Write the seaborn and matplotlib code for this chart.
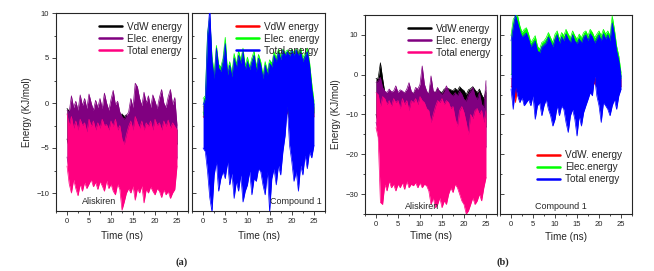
import numpy as np
import matplotlib
matplotlib.use('Agg')
import matplotlib.pyplot as plt
from matplotlib.ticker import MultipleLocator
import seaborn as sns

# sampling grid of the traces (ns); each series is stored as the upper / lower
# envelope of the fast oscillation, every 0.5 ns
time_ns = np.arange(0, 25.5, 0.5)

# ---- (a) Aliskiren ----
a_ali_vdw_hi = [-0.6, -0.9, -2.0, -2.2, -2.0, -2.3, -2.0, -2.2, -2.1, -2.4,
                -2.0, -2.3, -2.2, -2.1, -2.4, -2.0, -2.2, -2.3, -2.0, -2.2,
                -2.1, -2.4, -2.0, -2.2, -1.6, -1.2, -1.5, -1.3, -1.8, -2.0,
                -2.3, -2.0, -2.2, -2.1, -2.4, -2.0, -2.2, -2.3, -2.0, -2.2,
                -2.1, -2.4, -2.0, -2.2, -2.3, -2.0, -2.2, -2.1, -2.4, -2.6,
                -3.0]
a_ali_vdw_lo = [-4.0, -5.0, -5.5, -5.0, -5.2, -5.4, -5.0, -5.3, -5.1, -5.5,
                -5.2, -5.0, -5.4, -5.1, -5.3, -5.0, -5.2, -5.5, -5.0, -5.3,
                -5.1, -5.4, -5.0, -5.2, -5.5, -5.8, -6.0, -5.6, -5.3, -5.1,
                -5.0, -5.3, -5.2, -5.4, -5.1, -5.5, -5.2, -5.0, -5.3, -5.1,
                -5.4, -5.2, -5.0, -5.3, -5.5, -5.1, -5.2, -5.4, -5.0, -5.2,
                -4.5]
a_ali_elec_hi = [-0.8, -1.0, 0.8, -0.5, 0.2, -0.8, 0.9, -0.3, 0.5, -0.6,
                 1.0, 0.0, -0.8, 0.3, -0.5, 0.5, -0.6, 1.1, 0.0, -0.8,
                 0.4, 1.4, -0.2, 0.2, -1.0, -1.5, -1.8, -1.4, -1.0, 0.5,
                 -0.5, 2.2, 1.8, 0.5, -0.3, 1.2, 0.0, 0.8, -0.5, 0.9,
                 0.2, -0.6, 0.6, 1.5, 0.0, -0.5, 0.7, 1.5, -0.2, 0.6,
                 -2.5]
a_ali_elec_lo = [-6.0, -7.5, -8.0, -7.0, -7.8, -8.2, -7.2, -7.6, -7.0, -7.8,
                 -7.4, -7.0, -7.8, -7.2, -7.9, -7.1, -7.6, -7.9, -7.0, -7.5,
                 -7.3, -7.8, -8.1, -7.2, -7.6, -9.0, -8.8, -8.2, -7.5, -7.9,
                 -7.2, -8.0, -7.6, -7.9, -7.3, -8.4, -7.7, -7.9, -7.2, -7.8,
                 -8.0, -7.5, -7.8, -8.2, -7.4, -7.9, -7.6, -8.1, -7.7, -7.5,
                 -6.0]
a_ali_total_hi = [-1.2, -2.5, -1.5, -2.8, -2.0, -3.0, -1.8, -2.5, -2.2, -3.2,
                  -1.8, -2.6, -2.0, -3.0, -2.2, -2.8, -1.8, -2.5, -2.4, -3.0,
                  -2.0, -2.6, -1.8, -3.0, -2.5, -4.0, -4.6, -3.5, -2.6, -2.0,
                  -3.0, -1.5, -2.2, -2.8, -2.0, -3.0, -2.2, -2.6, -2.0, -3.0,
                  -1.8, -2.5, -2.2, -3.0, -2.0, -2.6, -1.9, -2.8, -2.2, -2.6,
                  -3.0]
a_ali_total_lo = [-7.0, -9.0, -10.0, -8.5, -9.5, -10.3, -9.0, -9.8, -8.8, -9.5,
                  -9.0, -8.5, -9.3, -8.8, -9.6, -8.7, -9.2, -9.8, -8.6, -9.5,
                  -9.0, -9.8, -10.2, -9.0, -9.6, -11.9, -11.0, -10.0, -9.5, -10.0,
                  -9.2, -10.8, -9.5, -10.0, -9.2, -11.1, -9.6, -10.0, -9.3, -9.8,
                  -10.2, -9.5, -9.8, -10.5, -9.6, -10.2, -9.8, -10.6, -10.0, -9.6,
                  -7.0]

# ---- (a) Compound 1 ----
a_cmp_vdw_hi = [-0.4, -0.5, -0.6, -0.5, -0.7, -0.5, -0.6, -0.4, -0.6, -0.5,
                -0.7, -0.5, -0.6, -0.5, -0.4, -0.6, -0.5, -0.7, -0.5, -0.6,
                -0.5, -0.6, -0.4, -0.6, -0.5, -0.7, -0.5, -0.6, -0.5, -0.4,
                -0.6, -0.5, -0.7, -0.5, -0.6, -0.5, -0.6, -0.4, -0.6, -0.5,
                -0.7, -0.5, -0.6, -0.5, -0.4, -0.6, -0.5, -0.7, -0.5, -0.6,
                -0.4]
a_cmp_vdw_lo = [-1.5, -1.8, -1.6, -2.0, -1.7, -1.9, -1.5, -1.8, -1.6, -2.0,
                -1.7, -1.9, -1.5, -1.8, -1.6, -2.0, -1.7, -1.9, -1.5, -1.8,
                -1.6, -2.0, -1.7, -1.9, -1.5, -1.8, -1.6, -2.0, -1.7, -1.9,
                -1.5, -1.8, -1.6, -2.0, -1.7, -1.9, -1.5, -1.6, -1.0, -1.8,
                -1.6, -2.0, -1.7, -1.9, -1.5, -1.8, -1.6, -2.0, -1.7, -1.9,
                -1.5]
a_cmp_elec_hi = [0.5, 0.8, 7.8, 9.5, 5.2, 3.2, 6.4, 4.3, 4.0, 5.0,
                 7.3, 3.5, 4.6, 3.3, 5.5, 4.3, 5.8, 4.8, 6.1, 4.1,
                 5.1, 4.0, 5.0, 5.8, 4.0, 5.4, 4.6, 3.1, 4.6, 3.5,
                 4.8, 4.4, 5.7, 5.0, 6.0, 5.2, 6.0, 5.6, 5.9, 5.5,
                 6.0, 5.6, 6.0, 5.6, 6.1, 5.0, 5.6, 6.1, 4.6, 2.2,
                 0.2]
a_cmp_elec_lo = [-1.0, -2.0, -2.2, -1.8, -2.0, -2.1, -1.9, -2.0, -2.2, -1.8,
                 -2.0, -2.1, -1.9, -2.0, -2.2, -1.8, -2.0, -2.1, -1.9, -2.0,
                 -2.2, -1.8, -2.0, -2.1, -1.9, -2.0, -2.2, -1.8, -2.0, -2.1,
                 -1.9, -2.0, -2.2, -1.8, -2.0, -2.1, -1.9, -2.0, 0.0, -2.0,
                 -2.2, -1.8, -2.0, -2.1, -1.9, -2.0, -2.2, -1.8, -2.0, -2.1,
                 -1.0]
a_cmp_total_hi = [-0.2, 0.5, 7.5, 10.5, 4.6, 2.7, 6.1, 3.9, 3.5, 4.6,
                  6.6, 3.1, 4.2, 2.9, 5.0, 3.9, 5.3, 4.4, 5.7, 3.7,
                  4.6, 3.7, 4.6, 5.3, 3.5, 5.0, 4.2, 2.7, 4.2, 3.1,
                  4.4, 4.0, 5.3, 4.6, 5.7, 4.8, 5.9, 5.3, 5.7, 5.2,
                  5.9, 5.3, 5.9, 5.3, 5.7, 4.6, 5.2, 5.7, 4.2, 1.6,
                  -0.2]
a_cmp_total_lo = [-5.0, -5.4, -7.6, -10.5, -12.1, -8.0, -6.5, -9.8, -8.4, -7.6,
                  -8.4, -6.5, -9.1, -7.8, -10.6, -8.7, -9.8, -8.0, -11.0, -9.8,
                  -9.1, -7.6, -10.2, -8.4, -8.7, -7.3, -7.6, -9.1, -10.2, -7.6,
                  -12.1, -8.4, -7.3, -9.1, -6.9, -8.0, -5.4, -3.6, -0.3, -4.7,
                  -6.5, -8.7, -7.6, -9.8, -6.9, -8.0, -5.8, -7.3, -5.4, -6.1,
                  -4.7]

# ---- (b) Aliskiren ----
b_ali_vdw_hi = [-1.0, -0.8, 3.0, -1.0, -4.5, -5.0, -4.2, -4.8, -4.6, -4.0,
                -5.0, -4.5, -4.5, -5.0, -4.2, -4.0, -4.6, -5.0, -4.0, -4.2,
                -4.0, -3.5, -3.8, -4.6, -5.0, -2.5, -4.4, -4.6, -3.6, -4.2,
                -4.5, -3.6, -3.5, -3.5, -3.8, -4.0, -3.4, -4.0, -3.0, -3.6,
                -4.0, -5.0, -3.8, -3.5, -3.0, -3.8, -4.5, -3.6, -5.0, -6.0,
                -4.0]
b_ali_vdw_lo = [-10.0, -12.0, -14.0, -15.0, -14.5, -15.0, -14.0, -15.0, -14.5, -15.0,
                -14.5, -15.0, -14.0, -15.5, -14.5, -15.0, -14.0, -15.0, -14.5, -15.5,
                -15.0, -14.5, -15.0, -14.0, -15.5, -16.0, -15.5, -16.5, -16.0, -15.0,
                -16.0, -15.5, -16.0, -15.0, -14.5, -15.0, -14.5, -15.0, -15.5, -16.0,
                -16.0, -16.5, -17.0, -16.0, -15.5, -16.0, -15.5, -15.0, -15.5, -14.5,
                -13.0]
b_ali_elec_hi = [-2.0, -1.5, -0.7, -3.2, -4.1, -4.5, -3.6, -4.3, -4.1, -2.8,
                 -4.5, -3.8, -4.1, -4.6, -3.6, -2.0, -4.1, -4.8, -3.2, -3.6,
                 -2.4, 2.2, -2.4, -4.1, -4.9, -0.3, -4.1, -4.5, -3.2, -4.5,
                 -4.9, -4.1, -2.8, -4.1, -4.9, -5.3, -4.5, -5.3, -4.1, -4.9,
                 -6.2, -6.6, -4.9, -4.1, -3.2, -5.3, -6.2, -4.5, -7.4, -8.3,
                 -1.5]
b_ali_elec_lo = [-12.0, -14.0, -20.0, -21.0, -19.5, -20.5, -19.0, -20.0, -19.5, -20.5,
                 -19.5, -20.0, -19.0, -20.5, -19.0, -20.0, -19.5, -20.0, -19.0, -20.0,
                 -19.5, -20.0, -19.5, -20.0, -21.0, -22.0, -21.5, -22.5, -22.0, -21.0,
                 -22.0, -21.5, -22.0, -21.0, -20.0, -21.0, -20.0, -20.5, -21.0, -22.0,
                 -22.0, -23.0, -23.0, -22.0, -21.5, -22.0, -21.5, -21.0, -21.5, -20.0,
                 -18.0]
b_ali_total_hi = [-4.5, -5.0, -8.0, -5.5, -6.0, -7.5, -6.5, -8.0, -6.0, -7.0,
                  -6.5, -8.5, -6.0, -7.5, -6.5, -9.0, -6.5, -7.0, -6.0, -7.5,
                  -5.5, -6.5, -7.0, -8.5, -9.0, -12.0, -10.0, -8.0, -6.5, -7.0,
                  -6.0, -7.5, -6.5, -7.0, -8.5, -8.0, -11.0, -13.0, -9.0, -8.0,
                  -9.5, -12.0, -15.0, -10.0, -11.0, -9.0, -8.5, -10.0, -9.0, -12.0,
                  -9.0]
b_ali_total_lo = [-13.3, -15.8, -32.1, -32.6, -27.5, -29.2, -26.7, -28.4, -27.5, -29.2,
                  -27.5, -28.4, -27.1, -28.8, -26.7, -28.4, -27.5, -27.9, -27.1, -28.4,
                  -27.1, -28.4, -27.5, -27.9, -29.2, -32.6, -30.9, -33.4, -32.6, -30.9,
                  -33.4, -31.7, -32.6, -30.0, -28.4, -29.6, -27.5, -28.4, -30.0, -31.7,
                  -32.6, -35.0, -34.2, -32.6, -30.9, -32.6, -31.7, -30.0, -31.7, -28.4,
                  -25.8]

# ---- (b) Compound 1 ----
b_cmp_vdw_hi = [-1.0, -1.2, -1.5, -1.0, -0.8, -1.1, -1.0, -1.3, -0.9, -1.0,
                -1.2, -1.0, -0.9, -1.1, -1.0, -1.2, -0.8, -1.0, -1.1, -1.0,
                -0.9, -1.2, -1.0, -1.1, -0.9, -1.0, -1.2, -1.0, -0.8, -1.1,
                -1.0, -1.2, -0.9, -1.0, -1.1, -1.0, -1.2, -1.0, -0.8, -1.1,
                -1.0, -0.9, -1.2, -1.0, -1.1, -0.9, -1.0, -1.2, -1.0, -1.1,
                -1.0]
b_cmp_vdw_lo = [-3.0, -3.2, -7.0, -3.0, -2.8, -3.1, -3.0, -3.3, -2.9, -3.0,
                -3.2, -3.0, -2.9, -3.1, -3.0, -3.2, -2.8, -3.0, -3.1, -3.0,
                -2.9, -3.2, -3.0, -3.1, -2.9, -3.0, -3.2, -3.0, -2.8, -3.1,
                -3.0, -3.2, -2.9, -3.0, -3.1, -3.0, -3.2, -3.0, -2.0, -3.1,
                -3.0, -2.9, -3.2, -3.0, -3.1, -2.9, -3.0, -3.2, -3.0, -3.1,
                -3.0]
b_cmp_elec_hi = [9.8, 13.9, 14.8, 14.8, 12.3, 10.6, 11.4, 11.8, 10.2, 8.1,
                 8.9, 9.8, 7.2, 6.4, 8.1, 8.5, 9.3, 10.6, 9.3, 8.1,
                 10.2, 11.0, 8.9, 10.6, 9.8, 11.4, 10.2, 9.3, 11.0, 9.8,
                 8.9, 10.2, 9.3, 10.6, 11.0, 9.8, 11.4, 10.6, 9.3, 10.2,
                 11.0, 9.8, 11.4, 10.2, 11.0, 9.8, 14.8, 11.4, 7.2, 4.7,
                 0.5]
b_cmp_elec_lo = [0.0, 0.5, -1.0, 0.0, 0.5, 0.0, -0.5, 0.0, 0.5, 0.0,
                 -0.5, 0.0, 0.5, 0.0, -0.5, 0.0, 0.5, 0.0, 0.0, -0.5,
                 0.0, 0.5, 0.0, -0.5, 0.0, 0.5, 0.0, 0.0, -0.5, 0.0,
                 0.5, 0.0, -0.5, 0.0, 0.5, 0.0, 0.0, -0.5, 0.0, 0.5,
                 0.0, -0.5, 0.0, 0.5, 0.0, 0.0, -0.5, 0.0, 0.5, 0.0,
                 -1.0]
b_cmp_total_hi = [8.5, 12.0, 15.0, 13.0, 11.0, 9.5, 10.0, 10.5, 9.0, 7.0,
                  7.8, 8.5, 6.0, 5.5, 7.0, 7.5, 8.0, 9.5, 8.3, 7.0,
                  9.0, 10.0, 7.8, 9.5, 8.5, 10.2, 9.0, 8.0, 10.0, 8.5,
                  7.8, 9.0, 8.0, 9.5, 10.0, 8.5, 10.3, 9.5, 8.0, 9.0,
                  10.0, 8.5, 10.3, 9.0, 10.0, 8.5, 13.0, 10.0, 6.0, 3.5,
                  -0.5]
b_cmp_total_lo = [-3.6, -8.7, -3.0, -5.3, -7.0, -5.7, -7.8, -7.0, -6.2, -7.8,
                  -5.3, -11.2, -7.8, -7.0, -10.3, -7.8, -6.2, -8.7, -10.3, -12.9,
                  -11.2, -7.8, -10.3, -7.8, -8.7, -12.0, -14.5, -10.3, -8.7, -11.2,
                  -15.4, -10.3, -12.9, -9.5, -7.8, -6.2, -4.5, -5.3, -0.5, -5.3,
                  -7.8, -12.0, -7.0, -7.8, -8.7, -10.3, -7.8, -6.2, -8.7, -5.3,
                  -3.6]

ali_colors = ['#000000', '#800080', '#ff0080']
cmp_colors = ['#ff0000', '#00ff00', '#0000ff']

sns.set_style('ticks')
plt.rcParams['font.family'] = ['Liberation Sans', 'DejaVu Sans']

W, H = 654, 271
fig = plt.figure(figsize=(W / 100, H / 100), dpi=100)


def px_axes(x0, x1, y0, y1):
    return fig.add_axes([x0 / W, 1 - y1 / H, (x1 - x0) / W, (y1 - y0) / H])


def draw_panel(ax, series, colors, labels, ylim, ystep, name, name_xy,
               inner=False, legend_loc='upper right', legend_anchor=(1.0, 0.985)):
    for i, ((hi, lo), color, label) in enumerate(zip(series, colors, labels)):
        z = 2 + i
        ax.fill_between(time_ns, lo, hi, color=color, lw=0, zorder=z)
        sns.lineplot(x=time_ns, y=hi, color=color, lw=0.5, ax=ax, label=label, zorder=z)
        sns.lineplot(x=time_ns, y=lo, color=color, lw=0.5, ax=ax, zorder=z)
    ax.set_xlim(-2.5, 27.5)
    ax.set_ylim(*ylim)
    ax.xaxis.set_major_locator(MultipleLocator(5))
    ax.xaxis.set_minor_locator(MultipleLocator(2.5))
    ax.yaxis.set_major_locator(MultipleLocator(ystep))
    ax.yaxis.set_minor_locator(MultipleLocator(ystep / 2))
    ax.tick_params(which='major', length=3, width=0.6, labelsize=5.5, pad=2)
    ax.tick_params(which='minor', length=1.6, width=0.6)
    if inner:
        ax.tick_params(axis='y', which='both', direction='in', labelleft=False)
    for sp in ax.spines.values():
        sp.set_linewidth(0.8)
    ax.set_xlabel('Time (ns)', fontsize=7.2)
    ax.text(name_xy[0], name_xy[1], name, ha='center', va='center', fontsize=6.5, zorder=10)
    leg = ax.legend(loc=legend_loc, bbox_to_anchor=legend_anchor, frameon=False, fontsize=7.2,
                    handlelength=2.3, handletextpad=0.5, labelspacing=0.2,
                    borderaxespad=0.3, borderpad=0.3)
    for line in leg.get_lines():
        line.set_linewidth(1.8)
    return ax


# panel (a)
ax1 = px_axes(56, 188, 13, 211)
draw_panel(ax1, [(a_ali_vdw_hi, a_ali_vdw_lo), (a_ali_elec_hi, a_ali_elec_lo),
                 (a_ali_total_hi, a_ali_total_lo)],
           ali_colors, ['VdW energy', 'Elec. energy', 'Total energy'],
           (-12, 10), 5, 'Aliskiren', (7.2, -10.9))
ax2 = px_axes(192, 325, 13, 211)
draw_panel(ax2, [(a_cmp_vdw_hi, a_cmp_vdw_lo), (a_cmp_elec_hi, a_cmp_elec_lo),
                 (a_cmp_total_hi, a_cmp_total_lo)],
           cmp_colors, ['VdW energy', 'Elec. energy', 'Total energy'],
           (-12, 10), 5, 'Compound 1', (21.0, -11.0), inner=True)

# panel (b)
ax3 = px_axes(365, 497, 15, 214)
draw_panel(ax3, [(b_ali_vdw_hi, b_ali_vdw_lo), (b_ali_elec_hi, b_ali_elec_lo),
                 (b_ali_total_hi, b_ali_total_lo)],
           ali_colors, ['VdW.energy', 'Elec. energy', 'Total energy'],
           (-35, 15), 10, 'Aliskiren', (10.4, -33.0))
ax4 = px_axes(500, 632, 15, 214)
draw_panel(ax4, [(b_cmp_vdw_hi, b_cmp_vdw_lo), (b_cmp_elec_hi, b_cmp_elec_lo),
                 (b_cmp_total_hi, b_cmp_total_lo)],
           cmp_colors, ['VdW. energy', 'Elec.energy', 'Total energy'],
           (-35, 15), 10, 'Compound 1', (11.3, -33.0), inner=True,
           legend_loc='lower right', legend_anchor=(0.97, 0.12))

for ax, yl in [(ax1, -0.126), (ax2, -0.126), (ax3, -0.11), (ax4, -0.115)]:
    ax.xaxis.label.set_va('center')
    ax.xaxis.set_label_coords(0.5, yl)

for ax in (ax1, ax3):
    ax.set_ylabel('Energy (KJ/mol)', fontsize=7)
    ax.yaxis.label.set_va('center')
    ax.yaxis.set_label_coords(-0.22, 0.5)

fig.text(182 / W, 1 - 262 / H, '(a)', ha='center', va='center', fontsize=7.5,
         fontweight='bold', family=['Liberation Serif', 'DejaVu Serif'])
fig.text(503 / W, 1 - 262 / H, '(b)', ha='center', va='center', fontsize=7.5,
         fontweight='bold', family=['Liberation Serif', 'DejaVu Serif'])

fig.savefig('out.png', dpi=100)
